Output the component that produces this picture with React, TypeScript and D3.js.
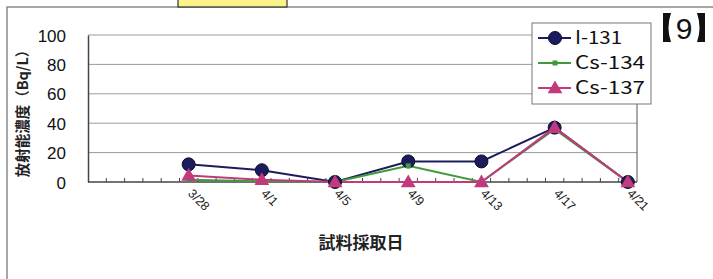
import { useEffect, useRef } from 'react';
import * as d3 from 'd3';

// every day on the category axis (3/23 - 4/21)
const days = [
  '3/23', '3/24', '3/25', '3/26', '3/27', '3/28', '3/29', '3/30', '3/31',
  '4/1', '4/2', '4/3', '4/4', '4/5', '4/6', '4/7', '4/8', '4/9', '4/10',
  '4/11', '4/12', '4/13', '4/14', '4/15', '4/16', '4/17', '4/18', '4/19',
  '4/20', '4/21',
];

// sampling dates (also the shown tick labels)
const sampleDates = ['3/28', '4/1', '4/5', '4/9', '4/13', '4/17', '4/21'];

const i131 = [12, 8, 0, 14, 14, 37, 0];
const cs134 = [1.5, 0.5, 0, 11, 0, 36, 0];
const cs137 = [4.5, 1.5, 0, 0, 0, 37, 0];

const yTicks = [0, 20, 40, 60, 80, 100];

const series = [
  { name: 'I-131', values: i131, color: '#1c1c5c', marker: 'circle', w: 47 },
  { name: 'Cs-134', values: cs134, color: '#3f9a3a', marker: 'square', w: 70 },
  { name: 'Cs-137', values: cs137, color: '#c2397c', marker: 'triangle', w: 70 },
];

const JP = '"Noto Sans CJK JP", sans-serif';
const NUM = '"Liberation Sans", Arial, sans-serif';

export default function App() {
  const svgRef = useRef<SVGSVGElement>(null);

  useEffect(() => {
    const width = 713;
    const height = 279;
    const plot = { left: 88, right: 637, top: 35, bottom: 182 };

    const svg = d3.select(svgRef.current);
    svg.selectAll('*').remove();
    svg.attr('width', width).attr('height', height);

    svg.append('rect').attr('width', width).attr('height', height).attr('fill', '#fff');

    // outer frame (top + left)
    svg.append('path')
      .attr('d', `M7,${height} V7 H${width}`)
      .attr('fill', 'none')
      .attr('stroke', '#8a8a8a')
      .attr('stroke-width', 1.5);

    // yellow tab at the top, cut off
    svg.append('rect')
      .attr('x', 178).attr('y', -4).attr('width', 109).attr('height', 11)
      .attr('fill', '#fbf28a').attr('stroke', '#333').attr('stroke-width', 1.2);

    const x = d3.scaleBand().domain(days).range([plot.left, plot.right]);
    const cx = (d: string) => (x(d) as number) + x.bandwidth() / 2;
    const y = d3.scaleLinear().domain([0, 100]).range([plot.bottom, plot.top]);

    // gridlines
    svg.append('g')
      .selectAll('line')
      .data(yTicks.filter((t) => t > 0))
      .enter()
      .append('line')
      .attr('x1', plot.left).attr('x2', plot.right)
      .attr('y1', (d) => y(d)).attr('y2', (d) => y(d))
      .attr('stroke', '#9a9a9a').attr('stroke-width', 1);

    // plot right border
    svg.append('line')
      .attr('x1', plot.right).attr('x2', plot.right)
      .attr('y1', plot.top).attr('y2', plot.bottom)
      .attr('stroke', '#555').attr('stroke-width', 1);

    // y axis
    const yAxis = svg.append('g')
      .attr('transform', `translate(${plot.left},0)`)
      .call(d3.axisLeft(y).tickValues(yTicks).tickSize(0).tickPadding(22));
    yAxis.select('.domain').attr('stroke', '#444').attr('stroke-width', 1.5);
    yAxis.selectAll('text')
      .attr('font-family', NUM)
      .attr('font-size', 17)
      .attr('fill', '#111')
      .attr('dy', '0.36em');

    // x axis with tick marks at band boundaries
    svg.append('line')
      .attr('x1', plot.left).attr('x2', plot.right)
      .attr('y1', plot.bottom).attr('y2', plot.bottom)
      .attr('stroke', '#444').attr('stroke-width', 1.5);

    svg.append('g')
      .selectAll('line')
      .data(days.slice(1))
      .enter()
      .append('line')
      .attr('x1', (d) => x(d) as number).attr('x2', (d) => x(d) as number)
      .attr('y1', plot.bottom).attr('y2', plot.bottom - 4)
      .attr('stroke', '#444').attr('stroke-width', 1);

    svg.append('g')
      .selectAll('text')
      .data(sampleDates)
      .enter()
      .append('text')
      .attr('transform', (d) => `translate(${cx(d) + 1},${plot.bottom + 10}) rotate(45)`)
      .attr('font-family', NUM)
      .attr('font-size', 12.5)
      .attr('fill', '#222')
      .attr('dominant-baseline', 'middle')
      .text((d) => d);

    // axis titles
    svg.append('text')
      .attr('transform', `translate(23,110) rotate(-90)`)
      .attr('text-anchor', 'middle')
      .attr('dy', '0.36em')
      .attr('font-family', JP)
      .attr('font-size', 14.5)
      .attr('font-weight', 'bold')
      .attr('fill', '#222')
      .text('放射能濃度（Bq/L）');

    svg.append('text')
      .attr('x', 361).attr('y', 249)
      .attr('text-anchor', 'middle')
      .attr('font-family', JP)
      .attr('font-size', 17)
      .attr('font-weight', 'bold')
      .attr('fill', '#222')
      .text('試料採取日');

    // markers
    const drawMarker = (g: any, type: string, color: string, px: number, py: number) => {
      if (type === 'circle') {
        g.append('circle').attr('cx', px).attr('cy', py).attr('r', 6.5)
          .attr('fill', color).attr('stroke', '#0d0d30').attr('stroke-width', 1);
      } else if (type === 'square') {
        g.append('rect').attr('x', px - 2.5).attr('y', py - 2.5)
          .attr('width', 5).attr('height', 5).attr('fill', color);
      } else {
        g.append('path')
          .attr('d', d3.symbol(d3.symbolTriangle, 95)())
          .attr('transform', `translate(${px},${py + 1})`)
          .attr('fill', color);
      }
    };

    const line = d3.line<number>()
      .x((_, i) => cx(sampleDates[i]))
      .y((d) => y(d));

    series.forEach((s) => {
      svg.append('path')
        .attr('d', line(s.values))
        .attr('fill', 'none')
        .attr('stroke', s.color)
        .attr('stroke-width', 2);
    });
    series.forEach((s) => {
      const g = svg.append('g');
      s.values.forEach((v, i) => drawMarker(g, s.marker, s.color, cx(sampleDates[i]), y(v)));
    });

    // legend
    const leg = svg.append('g');
    leg.append('rect')
      .attr('x', 532).attr('y', 23).attr('width', 119).attr('height', 81)
      .attr('fill', '#fff').attr('stroke', '#777').attr('stroke-width', 1);
    series.forEach((s, i) => {
      const ly = 38 + i * 25;
      leg.append('line')
        .attr('x1', 538).attr('x2', 571).attr('y1', ly).attr('y2', ly)
        .attr('stroke', s.color).attr('stroke-width', 2);
      drawMarker(leg, s.marker, s.color, 555, ly);
      leg.append('text')
        .attr('x', 575).attr('y', ly)
        .attr('dy', '0.36em')
        .attr('font-family', JP)
        .attr('font-size', 18)
        .attr('textLength', s.w)
        .attr('lengthAdjust', 'spacingAndGlyphs')
        .attr('fill', '#111')
        .text(s.name);
    });

    // panel number 【9】
    const br = svg.append('g').attr('fill', '#111');
    br.append('path').attr('d', 'M663,13 H671 Q666,27.5 671,42 H663 Z');
    br.append('path').attr('d', 'M705,13 H697 Q702,27.5 697,42 H705 Z');
    br.append('text')
      .attr('x', 684).attr('y', 39)
      .attr('text-anchor', 'middle')
      .attr('font-family', NUM)
      .attr('font-size', 30)
      .text('9');
  }, []);

  return <svg ref={svgRef} style={{ position: 'absolute', left: 0, top: 0 }}></svg>;
}
